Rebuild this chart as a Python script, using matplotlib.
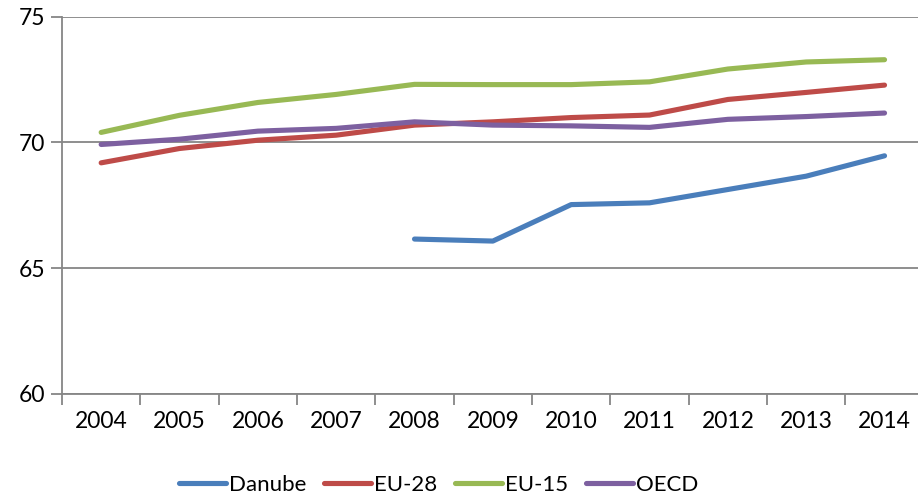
import matplotlib
matplotlib.use("Agg")
import matplotlib.pyplot as plt
import numpy as np

years = ['2004', '2005', '2006', '2007', '2008', '2009', '2010', '2011', '2012', '2013', '2014']
danube = [np.nan, np.nan, np.nan, np.nan, 66.16, 66.08, 67.53, 67.60, 68.13, 68.66, 69.47]
eu28 = [69.19, 69.76, 70.09, 70.29, 70.69, 70.82, 70.99, 71.09, 71.71, 71.99, 72.28]
eu15 = [70.40, 71.08, 71.59, 71.91, 72.31, 72.30, 72.30, 72.41, 72.92, 73.20, 73.29]
oecd = [69.92, 70.13, 70.45, 70.56, 70.82, 70.69, 70.66, 70.60, 70.92, 71.03, 71.17]

series = [("Danube", danube, "#4A7EBB"),
          ("EU-28", eu28, "#BE4B48"),
          ("EU-15", eu15, "#98B954"),
          ("OECD", oecd, "#7D60A0")]

plt.rcParams['font.family'] = ['Lato', 'DejaVu Sans']

W, H = 918, 500
fig = plt.figure(figsize=(W / 100, H / 100), dpi=100)
# plot area in pixels: x 62..923.7, y 16.7..394
ax = fig.add_axes([62 / W, 1 - 394 / H, 861.7 / W, (394 - 16.7) / H])

x = np.arange(len(years))
for name, vals, col in series:
    ax.plot(x, vals, color=col, lw=3.7, solid_capstyle='round',
            solid_joinstyle='round', label=name)

grey = "#868686"
ax.set_xlim(-0.5, len(years) - 0.5)
ax.set_ylim(60, 75)
ax.set_yticks([60, 65, 70, 75])
ax.yaxis.grid(True, color=grey, lw=1.3)
ax.set_axisbelow(True)

# category boundaries get the tick marks, labels sit in the middle
ax.set_xticks(np.arange(-0.5, len(years), 1.0))
ax.set_xticklabels([])
ax.set_xticks(x, minor=True)
ax.set_xticklabels(years, minor=True)
ax.tick_params(axis='x', which='major', length=8, width=1.3, color=grey, direction='out')
ax.tick_params(axis='x', which='minor', length=0, pad=12, labelsize=16.5)
ax.tick_params(axis='y', length=8, width=1.3, color=grey, direction='out', pad=4, labelsize=16.5)

for s in ['top', 'right']:
    ax.spines[s].set_visible(False)
for s in ['left', 'bottom']:
    ax.spines[s].set_color(grey)
    ax.spines[s].set_linewidth(1.3)

fig.legend(loc='center', bbox_to_anchor=(439 / W, 1 - 485 / H), ncol=4,
           frameon=False, fontsize=16, handlelength=2.1, handletextpad=0.15,
           columnspacing=0.8)

fig.savefig("out.png", dpi=100)
